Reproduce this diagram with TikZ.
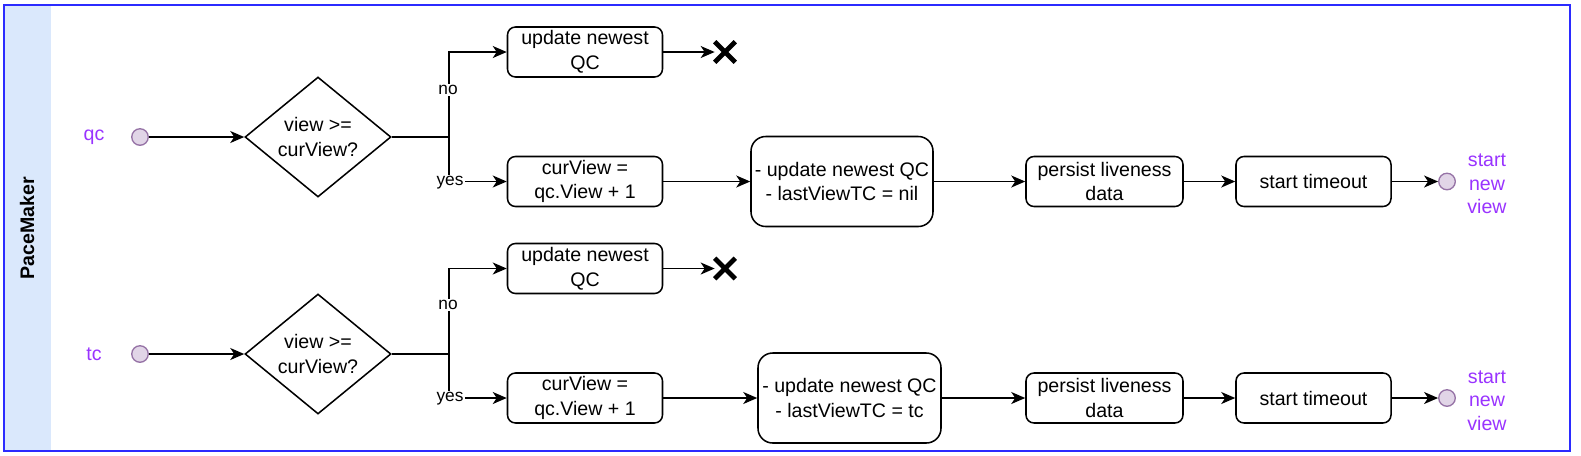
\documentclass[tikz,border=0pt]{standalone}
\usepackage{fontspec}
\setmainfont{Liberation Sans}
\usetikzlibrary{arrows.meta,shapes.geometric,shapes.misc}
\definecolor{lanefill}{HTML}{DAE8FC}
\definecolor{laneline}{HTML}{2B2BFF}
\definecolor{purpletext}{HTML}{9933FF}
\definecolor{dotfill}{HTML}{E1D5E7}
\definecolor{dotline}{HTML}{9673A6}
\begin{document}
\begin{tikzpicture}[x=0.75pt,y=-0.75pt,
  every node/.style={font=\fontsize{14.7pt}{18.5pt}\selectfont},
  box/.style={draw, line width=1.15pt, rounded corners=6pt, align=center, inner sep=0pt, minimum width=116.25pt, minimum height=37.5pt},
  bigbox/.style={box, rounded corners=11pt, minimum width=136.5pt, minimum height=67.5pt},
  decision/.style={draw, diamond, line width=1.15pt, inner sep=0pt, minimum width=109.5pt, minimum height=90pt, align=center},
  dotnode/.style={circle, draw=dotline, fill=dotfill, line width=1pt, minimum size=12.4pt, inner sep=0pt},
  stopnode/.style={cross out, draw, line width=3.5pt, minimum size=12pt, inner sep=0pt},
  plabel/.style={text=purpletext, align=center, font=\fontsize{14.7pt}{17.5pt}\selectfont},
  blabel/.style={fill=white, inner sep=1pt, font=\fontsize{13pt}{15pt}\selectfont},
  flow/.style={-{Stealth[length=10.5pt,width=9pt,inset=3pt]}, line width=1.2pt},
]
\useasboundingbox (0,0) rectangle (1581,455);
% swimlane
\fill[lanefill] (4,5) rectangle (51,451);
\draw[laneline, line width=1.5pt] (4,5) rectangle (1570,451);
\node[rotate=90, font=\fontsize{14.7pt}{18pt}\selectfont\bfseries] (lane) at (27,228) {PaceMaker};

% ---------- qc row ----------
\node[plabel] (qclab) at (94,137) {qc};
\node[dotnode] (qcin) at (140,137) {};
\node[decision] (d1) at (318,137) {view >=\\curView?};
\coordinate (j1) at (449,137);
\node[box] (u1) at (585,52) {update newest\\QC};
\node[stopnode] (x1) at (725,52) {};
\node[box] (c1) at (585,181.5) {curView =\\qc.View + 1};
\node[bigbox] (l1) at (842,181.5) {- update newest QC\\- lastViewTC = nil};
\node[box, minimum width=117.75pt] (p1) at (1104.5,181.5) {persist liveness\\data};
\node[box] (t1) at (1313.5,181.5) {start timeout};
\node[dotnode] (e1) at (1447,181.5) {};
\node[plabel] (s1) at (1487,184) {start\\new\\view};

\draw[flow] (qcin) -- (d1.west);
\draw[flow] (d1.east) -- (j1) |- (u1.west);
\draw[flow] (d1.east) -- (j1) |- (c1.west);
\node[blabel] (no1) at (448,90) {no};
\node[blabel] (yes1) at (450,183) {yes};
\draw[flow] (u1.east) -- (x1.west);
\draw[flow] (c1.east) -- (l1.west);
\draw[flow] (l1.east) -- (p1.west);
\draw[flow] (p1.east) -- (t1.west);
\draw[flow] (t1.east) -- (e1.west);

% ---------- tc row ----------
\node[plabel] (tclab) at (94,354) {tc};
\node[dotnode] (tcin) at (140,354) {};
\node[decision] (d2) at (318,354) {view >=\\curView?};
\coordinate (j2) at (449,354);
\node[box] (u2) at (585,268.5) {update newest\\QC};
\node[stopnode] (x2) at (725,268.5) {};
\node[box] (c2) at (585,398) {curView =\\qc.View + 1};
\node[bigbox, minimum width=137.25pt] (l2) at (849.5,398) {- update newest QC\\- lastViewTC = tc};
\node[box, minimum width=117.75pt] (p2) at (1104.5,398) {persist liveness\\data};
\node[box] (t2) at (1313.5,398) {start timeout};
\node[dotnode] (e2) at (1447,398) {};
\node[plabel] (s2) at (1487,400.5) {start\\new\\view};

\draw[flow] (tcin) -- (d2.west);
\draw[flow] (d2.east) -- (j2) |- (u2.west);
\draw[flow] (d2.east) -- (j2) |- (c2.west);
\node[blabel] (no2) at (448,305) {no};
\node[blabel] (yes2) at (450,399) {yes};
\draw[flow] (u2.east) -- (x2.west);
\draw[flow] (c2.east) -- (l2.west);
\draw[flow] (l2.east) -- (p2.west);
\draw[flow] (p2.east) -- (t2.west);
\draw[flow] (t2.east) -- (e2.west);
\end{tikzpicture}
\end{document}
